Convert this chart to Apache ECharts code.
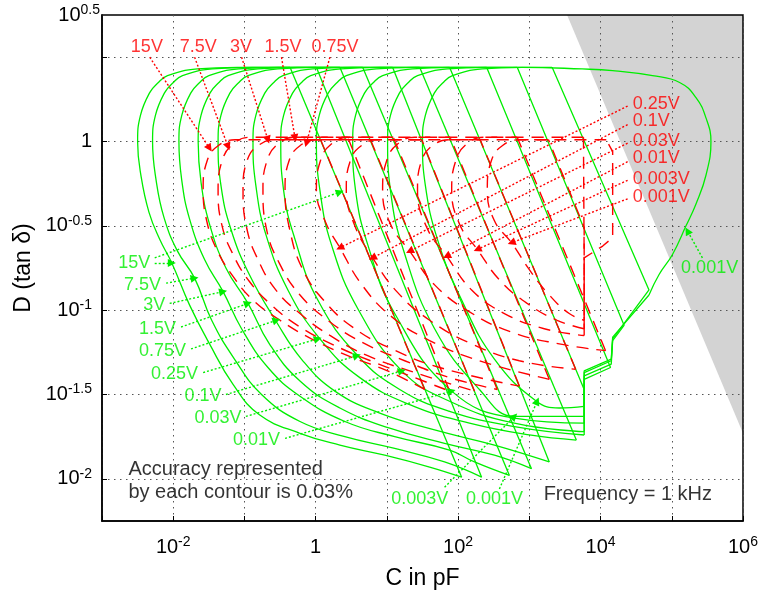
<!DOCTYPE html>
<html><head><meta charset="utf-8">
<script src="https://cdn.jsdelivr.net/npm/echarts@6/dist/echarts.min.js"></script>
<style>html,body{margin:0;padding:0;background:#fff}#c{width:776px;height:596px}</style>
</head><body><div id="c"></div>
<script>
// All coordinates are log10 values: u = log10(C / pF), v = log10(D)
const xRange = [-3, 6];
const yRange = [-2.25, 0.75];
const yTickValues = [-2, -1.5, -1, -0.5, 0, 0.5];
const yLabelValues = [-2, -1.5, -1, -0.5, 0, 0.75];
const voltages = ['15V','7.5V','3V','1.5V','0.75V','0.25V','0.1V','0.03V','0.01V','0.003V','0.001V'];
const shadeRegion = [[3.53,0.75],[6,-1.73],[6,0.75]];

// ---- green contours (left/bottom curved part, then straight right edge) ----
const g15_curve = [[-0.36,0.44],[-1.10,0.44],[-1.66,0.43],[-2.08,0.39],[-2.22,0.345],[-2.33,0.29],[-2.46,0.155],[-2.50,0],[-2.45,-0.21],[-2.34,-0.42],[-2.19,-0.58],[-2.02,-0.72],[-1.77,-0.97],[-1.49,-1.20],[-1.16,-1.44],[-0.79,-1.62],[-0.22,-1.73],[0.34,-1.80],[0.97,-1.86],[1.60,-1.93],[2.05,-1.99]];
const g15_edge = [[2.05,-1.99],[-0.36,0.44]];
const g7_5_curve = [[0.01,0.44],[-0.89,0.44],[-1.45,0.43],[-1.87,0.39],[-2.01,0.345],[-2.12,0.29],[-2.25,0.155],[-2.29,0],[-2.24,-0.23],[-2.13,-0.45],[-1.94,-0.65],[-1.70,-0.81],[-1.46,-1.06],[-1.14,-1.29],[-0.76,-1.50],[-0.22,-1.66],[0.41,-1.75],[1.11,-1.82],[1.81,-1.90],[2.33,-1.99]];
const g7_5_edge = [[2.33,-1.99],[0.01,0.44]];
const g3_curve = [[0.34,0.44],[-0.52,0.44],[-1.08,0.43],[-1.50,0.39],[-1.64,0.345],[-1.75,0.29],[-1.88,0.155],[-1.92,0],[-1.88,-0.23],[-1.77,-0.46],[-1.56,-0.70],[-1.30,-0.89],[-1.04,-1.11],[-0.67,-1.34],[-0.22,-1.51],[0.41,-1.66],[1.11,-1.75],[1.88,-1.83],[2.23,-1.90],[2.72,-1.98]];
const g3_edge = [[2.72,-1.98],[0.34,0.44]];
const g1_5_curve = [[0.66,0.44],[-0.25,0.44],[-0.81,0.43],[-1.23,0.39],[-1.37,0.345],[-1.48,0.29],[-1.61,0.155],[-1.65,0],[-1.61,-0.24],[-1.49,-0.49],[-1.26,-0.75],[-0.95,-0.96],[-0.65,-1.20],[-0.22,-1.42],[0.34,-1.58],[1.04,-1.70],[1.81,-1.79],[2.51,-1.86],[3.03,-1.94]];
const g1_5_edge = [[3.03,-1.94],[0.66,0.44]];
const g0_75_curve = [[1.08,0.44],[0.03,0.44],[-0.53,0.43],[-0.95,0.39],[-1.09,0.345],[-1.20,0.29],[-1.33,0.155],[-1.37,0],[-1.33,-0.26],[-1.19,-0.52],[-0.93,-0.79],[-0.55,-1.07],[-0.20,-1.29],[0.27,-1.48],[0.90,-1.61],[1.67,-1.71],[2.51,-1.80],[3.28,-1.90]];
const g0_75_edge = [[3.28,-1.90],[1.08,0.44]];
const g0_25_curve = [[1.46,0.44],[0.52,0.44],[-0.04,0.43],[-0.46,0.39],[-0.60,0.345],[-0.71,0.29],[-0.84,0.155],[-0.88,0],[-0.84,-0.26],[-0.70,-0.55],[-0.39,-0.88],[0.06,-1.17],[0.62,-1.40],[1.32,-1.56],[2.16,-1.67],[3.00,-1.74],[3.66,-1.77]];
const g0_25_edge = [[3.66,-1.77],[1.46,0.44]];
const g0_1_curve = [[1.88,0.44],[0.91,0.44],[0.35,0.43],[-0.07,0.39],[-0.21,0.345],[-0.32,0.29],[-0.45,0.155],[-0.49,0],[-0.45,-0.29],[-0.29,-0.58],[0.03,-0.94],[0.59,-1.27],[1.18,-1.47],[1.88,-1.60],[2.79,-1.69],[3.77,-1.74]];
const g0_1_edge = [[3.77,-1.74],[3.77,-1.47],[1.88,0.44]];
const g0_03_curve = [[2.40,0.44],[1.41,0.44],[0.85,0.43],[0.43,0.39],[0.29,0.345],[0.18,0.29],[0.05,0.155],[0.01,0],[0.06,-0.29],[0.22,-0.61],[0.59,-0.99],[1.21,-1.36],[1.88,-1.54],[2.79,-1.67],[3.77,-1.72]];
const g0_03_edge = [[3.77,-1.72],[3.77,-1.41],[4.14,-1.34],[2.40,0.44]];
const g0_01_curve = [[2.83,0.44],[1.92,0.44],[1.36,0.43],[0.94,0.39],[0.80,0.345],[0.69,0.29],[0.56,0.155],[0.52,0],[0.56,-0.29],[0.73,-0.61],[1.11,-1.02],[1.91,-1.48],[2.79,-1.64],[3.77,-1.67]];
const g0_01_edge = [[3.77,-1.67],[3.77,-1.39],[4.15,-1.32],[4.17,-1.18],[4.33,-1.09],[2.83,0.44]];
const g0_003_curve = [[3.32,0.44],[2.41,0.44],[1.85,0.43],[1.43,0.39],[1.29,0.345],[1.18,0.29],[1.05,0.155],[1.01,0],[1.05,-0.29],[1.23,-0.64],[1.67,-1.11],[2.30,-1.47],[2.79,-1.63],[3.28,-1.63],[3.77,-1.63]];
const g0_003_edge = [[3.77,-1.63],[3.77,-1.37],[4.15,-1.30],[4.17,-1.17],[4.68,-0.88],[3.32,0.44]];
const g0_001_curve = [[4.68,-0.91],[4.82,-0.79],[5.01,-0.67],[5.20,-0.50],[5.34,-0.37],[5.48,-0.20],[5.55,0.00],[5.48,0.14],[5.34,0.26],[5.11,0.35],[4.73,0.39],[4.17,0.42],[3.74,0.43],[2.90,0.44],[2.34,0.43],[1.92,0.39],[1.78,0.345],[1.67,0.29],[1.54,0.155],[1.50,0],[1.54,-0.26],[1.71,-0.58],[2.05,-0.94],[2.51,-1.29],[3.10,-1.54],[3.42,-1.58],[3.77,-1.57]];
const g0_001_edge = [[3.77,-1.57],[3.77,-1.36],[4.15,-1.29],[4.17,-1.16],[4.68,-0.91]];

// ---- red dashed contours ----
const r15_curve = [[0.07,0.01],[-1.13,0.01],[-1.37,-0.025],[-1.52,-0.11],[-1.58,-0.285],[-1.53,-0.47],[-1.39,-0.64],[-1.16,-0.80],[-0.88,-0.94],[-0.50,-1.06],[-0.06,-1.17],[0.45,-1.27],[1.01,-1.36],[1.53,-1.47]];
const r15_edge = [[1.53,-1.47],[0.07,0.01]];
const r7_5_curve = [[0.45,0.025],[-0.92,0.025],[-1.16,-0.015],[-1.31,-0.11],[-1.37,-0.285],[-1.32,-0.49],[-1.16,-0.67],[-0.93,-0.83],[-0.62,-0.97],[-0.22,-1.10],[0.27,-1.21],[0.83,-1.31],[1.39,-1.40],[1.88,-1.48]];
const r7_5_edge = [[1.88,-1.48],[0.45,0.025]];
const r3_curve = [[0.77,0.01],[-0.57,0.01],[-0.81,-0.025],[-0.96,-0.11],[-1.02,-0.285],[-0.97,-0.51],[-0.81,-0.70],[-0.56,-0.88],[-0.22,-1.02],[0.20,-1.15],[0.73,-1.27],[1.32,-1.36],[2.23,-1.48]];
const r3_edge = [[2.23,-1.48],[0.77,0.01]];
const r1_5_curve = [[1.09,0.025],[-0.29,0.025],[-0.53,-0.015],[-0.68,-0.11],[-0.74,-0.285],[-0.69,-0.52],[-0.50,-0.73],[-0.22,-0.91],[0.17,-1.06],[0.65,-1.19],[1.25,-1.30],[1.88,-1.40],[2.55,-1.47]];
const r1_5_edge = [[2.55,-1.47],[1.09,0.025]];
const r0_75_curve = [[1.49,0.01],[0.02,0.01],[-0.22,-0.025],[-0.37,-0.11],[-0.43,-0.285],[-0.36,-0.53],[-0.18,-0.76],[0.13,-0.95],[0.55,-1.11],[1.07,-1.23],[1.74,-1.34],[2.86,-1.45]];
const r0_75_edge = [[2.86,-1.45],[1.49,0.01]];
const r0_25_curve = [[1.89,0.025],[0.46,0.025],[0.22,-0.015],[0.07,-0.11],[0.01,-0.285],[0.13,-0.47],[0.34,-0.63],[0.65,-0.85],[1.07,-1.04],[1.60,-1.18],[2.30,-1.30],[3.28,-1.41]];
const r0_25_edge = [[3.28,-1.41],[1.89,0.025]];
const r0_1_curve = [[2.31,0.01],[0.88,0.01],[0.64,-0.025],[0.49,-0.11],[0.43,-0.285],[0.55,-0.50],[0.80,-0.69],[1.14,-0.89],[1.60,-1.06],[2.19,-1.20],[2.86,-1.30],[3.65,-1.35]];
const r0_1_edge = [[3.65,-1.35],[2.31,0.01]];
const r0_03_curve = [[2.83,0.025],[1.39,0.025],[1.15,-0.015],[1.00,-0.11],[0.94,-0.285],[1.05,-0.49],[1.32,-0.65],[1.67,-0.85],[2.16,-1.01],[2.75,-1.13],[3.42,-1.20],[4.07,-1.24]];
const r0_03_edge = [[4.07,-1.24],[2.83,0.025]];
const r0_01_curve = [[3.27,0.01],[1.88,0.01],[1.64,-0.025],[1.49,-0.11],[1.43,-0.285],[1.56,-0.51],[1.84,-0.68],[2.19,-0.88],[2.65,-1.02],[3.21,-1.11],[3.77,-1.15]];
const r0_01_edge = [[3.77,-1.15],[3.77,-0.51],[3.27,0.01]];
const r0_003_curve = [[3.76,0.025],[2.36,0.025],[2.12,-0.015],[1.97,-0.11],[1.91,-0.285],[2.02,-0.49],[2.27,-0.64],[2.58,-0.82],[2.97,-0.96],[3.39,-1.06],[3.77,-1.11]];
const r0_003_edge = [[3.77,-1.11],[3.77,-0.72],[3.76,0.025]];
const r0_001_curve = [[4.08,0.01],[2.86,0.01],[2.62,-0.025],[2.47,-0.11],[2.41,-0.285],[2.51,-0.47],[2.75,-0.60],[3.00,-0.76],[3.28,-0.91],[3.56,-1.02],[3.77,-1.06]];
const r0_001_edge = [[3.77,-1.06],[3.77,-0.69],[4.03,-0.62],[4.17,-0.57],[4.17,-0.06],[4.08,0.01]];

// ---- annotation arrows: [from, to] ----
const greenArrows = [
  [[-2.26,-0.72],[-2.02,-0.72]], [[-2.26,-0.69],[0.34,-0.30]],
  [[-2.10,-0.84],[-1.70,-0.81]], [[-2.05,-0.96],[-1.30,-0.89]],
  [[-1.89,-1.10],[-0.95,-0.96]], [[-1.75,-1.23],[-0.55,-1.06]],
  [[-1.58,-1.37],[0.03,-1.17]],  [[-1.26,-1.50],[0.58,-1.27]],
  [[-0.98,-1.63],[1.21,-1.36]],  [[-0.43,-1.76],[1.91,-1.48]],
  [[1.81,-2.05],[2.79,-1.63]],   [[2.58,-2.06],[3.11,-1.54]],
  [[5.43,-0.69],[5.22,-0.53]]
];
const redArrows = [
  [[-2.33,0.50],[-1.49,-0.04]], [[-1.70,0.50],[-1.23,-0.03]],
  [[-1.04,0.50],[-0.67,0.01]],  [[-0.48,0.50],[-0.29,0.02]],
  [[0.20,0.50],[-0.13,-0.01]],
  [[4.38,0.21],[0.34,-0.63]],   [[4.38,0.10],[0.80,-0.69]],
  [[4.38,-0.01],[1.32,-0.65]],  [[4.38,-0.12],[1.84,-0.68]],
  [[4.38,-0.23],[2.27,-0.64]],  [[4.38,-0.34],[2.75,-0.60]]
];
// ---- label anchors ----
const greenLeftLabelPos = [[-2.30,-0.72],[-2.15,-0.85],[-2.09,-0.97],[-1.94,-1.11],[-1.80,-1.24],[-1.63,-1.38],[-1.30,-1.51],[-1.02,-1.64],[-0.48,-1.77]];
const greenOtherLabelPos = [[1.04,-2.12],[2.09,-2.12],[5.11,-0.75]];
const redTopLabelPos = [[-2.37,0.56],[-1.65,0.56],[-1.05,0.56],[-0.46,0.56],[0.27,0.56]];
const redRightLabelPos = [[4.43,0.22],[4.43,0.12],[4.43,0.00],[4.43,-0.10],[4.43,-0.22],[4.43,-0.33]];
const notePos = [[-2.65,-2.01],[3.18,-2.09]];
const noteText = ['Accuracy represented\nby each contour is 0.03%', 'Frequency = 1 kHz'];

const greenCurves = [g15_curve,g7_5_curve,g3_curve,g1_5_curve,g0_75_curve,g0_25_curve,g0_1_curve,g0_03_curve,g0_01_curve,g0_003_curve,g0_001_curve];
const greenEdges = [g15_edge,g7_5_edge,g3_edge,g1_5_edge,g0_75_edge,g0_25_edge,g0_1_edge,g0_03_edge,g0_01_edge,g0_003_edge,g0_001_edge];
const redCurves = [r15_curve,r7_5_curve,r3_curve,r1_5_curve,r0_75_curve,r0_25_curve,r0_1_curve,r0_03_curve,r0_01_curve,r0_003_curve,r0_001_curve];
const redEdges = [r15_edge,r7_5_edge,r3_edge,r1_5_edge,r0_75_edge,r0_25_edge,r0_1_edge,r0_03_edge,r0_01_edge,r0_003_edge,r0_001_edge];

const FONT = '"Liberation Sans", Arial, Helvetica, sans-serif';
const GREEN = '#00ee00', RED = '#ff0000';
const richTick = {
  b: {fontSize: 20, fontFamily: FONT, color: '#000', lineHeight: 24},
  s: {fontSize: 14, fontFamily: FONT, color: '#000', lineHeight: 10, verticalAlign: 'top'},
  g: {width: 8}
};

const series = [];
series.push({
  type: 'custom', z: -1, silent: true, data: [shadeRegion[0]],
  renderItem: (params, api) => ({type: 'polygon', shape: {points: shadeRegion.map(p => api.coord(p))}, style: {fill: '#d3d3d3'}})
});
greenCurves.forEach(d => series.push({type: 'line', data: d, smooth: 0.45, symbol: 'none', silent: true, z: 3, lineStyle: {color: GREEN, width: 1.3}}));
greenEdges.forEach(d => series.push({type: 'line', data: d, smooth: false, symbol: 'none', silent: true, z: 3, lineStyle: {color: GREEN, width: 1.3}}));
redCurves.forEach(d => series.push({type: 'line', data: d, smooth: 0.45, symbol: 'none', silent: true, z: 4, lineStyle: {color: RED, width: 1.4, type: [12, 8]}}));
redEdges.forEach(d => series.push({type: 'line', data: d, smooth: false, symbol: 'none', silent: true, z: 4, lineStyle: {color: RED, width: 1.4, type: [12, 8]}}));
[[greenArrows, GREEN], [redArrows, RED]].forEach(([arr, col]) => series.push({
  type: 'lines', coordinateSystem: 'cartesian2d', silent: true, z: 6,
  symbol: ['none', 'triangle'], symbolSize: 8,
  lineStyle: {color: col, width: 1.4, type: [2, 2], opacity: 1, curveness: 0},
  itemStyle: {color: col},
  data: arr.map(a => ({coords: a}))
}));
const labelItems = [];
greenLeftLabelPos.forEach((p, i) => labelItems.push({value: p, label: {formatter: voltages[i], position: 'left', color: GREEN}}));
labelItems.push({value: greenOtherLabelPos[0], label: {formatter: voltages[9], position: 'right', color: GREEN}});
labelItems.push({value: greenOtherLabelPos[1], label: {formatter: voltages[10], position: 'right', color: GREEN}});
labelItems.push({value: greenOtherLabelPos[2], label: {formatter: voltages[10], position: 'right', color: GREEN}});
redTopLabelPos.forEach((p, i) => labelItems.push({value: p, label: {formatter: voltages[i], position: 'inside', color: RED}}));
redRightLabelPos.forEach((p, i) => labelItems.push({value: p, label: {formatter: voltages[i + 5], position: 'right', color: RED}}));
notePos.forEach((p, i) => labelItems.push({value: p, label: {formatter: noteText[i], position: 'right', color: '#000', fontSize: 20, lineHeight: 23}}));
series.push({
  type: 'scatter', symbolSize: 1, silent: true, z: 8, itemStyle: {color: 'rgba(0,0,0,0)'},
  label: {show: true, fontFamily: FONT, fontSize: 18, distance: 1},
  data: labelItems
});

const chart = echarts.init(document.getElementById('c'), null, {renderer: 'canvas'});
chart.setOption({
  animation: false,
  backgroundColor: '#fff',
  grid: {left: 102, right: 33, top: 15, bottom: 75, show: true, borderColor: '#000', borderWidth: 1.5, backgroundColor: 'rgba(0,0,0,0)'},
  xAxis: {
    type: 'value', min: xRange[0], max: xRange[1], interval: 1,
    axisLine: {show: true, onZero: false, lineStyle: {color: '#000', width: 1.5}},
    axisTick: {show: true, inside: true, length: 5, lineStyle: {color: '#000'}},
    axisLabel: {margin: 14, rich: richTick, formatter: v => {
      const e = Math.round(v);
      if (e === 0) return '{b|1}';
      if (e % 2 !== 0) return '';
      return '{b|10}{s|' + e + '}';
    }},
    splitLine: {show: true, lineStyle: {color: '#555', type: [1.5, 4.5], width: 1}},
    name: 'C in pF', nameLocation: 'middle', nameGap: 46,
    nameTextStyle: {fontSize: 23, color: '#000', fontFamily: FONT}
  },
  yAxis: {
    type: 'value', min: yRange[0], max: yRange[1], interval: 0.25,
    axisLine: {show: true, onZero: false, lineStyle: {color: '#000', width: 1.5}},
    axisTick: {show: true, inside: true, length: 5, lineStyle: {color: '#000'}, customValues: yTickValues},
    axisLabel: {margin: 2, rich: richTick, customValues: yLabelValues, formatter: v => {
      if (Math.abs(v - 0.75) < 1e-6) return '{b|10}{s|0.5}';
      if (Math.abs(v) < 1e-6) return '{b|1}{g|}';
      return '{b|10}{s|' + v + '}{g|}';
    }},
    splitLine: {show: true, lineStyle: {color: '#555', type: [1.5, 4.5], width: 1}},
    name: 'D (tan δ)', nameLocation: 'middle', nameGap: 53,
    nameTextStyle: {fontSize: 23, color: '#000', fontFamily: FONT}
  },
  series: series
});
</script>
</body></html>
